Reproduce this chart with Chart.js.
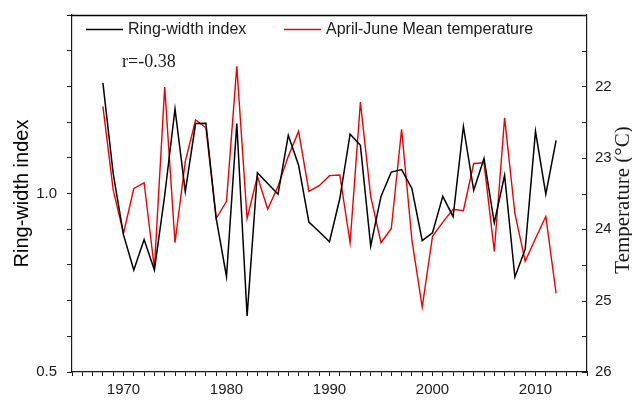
<!DOCTYPE html>
<html>
<head>
<meta charset="utf-8">
<script src="https://cdn.jsdelivr.net/npm/chart.js@4/dist/chart.umd.min.js"></script>
<style>
  html, body { margin: 0; padding: 0; background: #fff; }
  canvas { display: block; }
</style>
</head>
<body>
<canvas id="c" width="632" height="400"></canvas>
<script>
// Years of record
const years = [
  1968, 1969, 1970, 1971, 1972, 1973, 1974, 1975, 1976, 1977,
  1978, 1979, 1980, 1981, 1982, 1983, 1984, 1985, 1986, 1987,
  1988, 1989, 1990, 1991, 1992, 1993, 1994, 1995, 1996, 1997,
  1998, 1999, 2000, 2001, 2002, 2003, 2004, 2005, 2006, 2007,
  2008, 2009, 2010, 2011, 2012
];

// Tree-ring width index (left axis)
const ringWidth = [
  1.310, 1.056, 0.884, 0.786, 0.871, 0.786, 0.995, 1.237, 1.005, 1.196,
  1.197, 0.930, 0.767, 1.196, 0.657, 1.058, 1.028, 0.998, 1.163, 1.079,
  0.920, 0.893, 0.865, 0.986, 1.166, 1.135, 0.853, 0.992, 1.060, 1.067,
  1.014, 0.868, 0.890, 0.992, 0.935, 1.188, 1.009, 1.098, 0.918, 1.051,
  0.766, 0.844, 1.174, 0.998, 1.149
];

// April-June mean temperature, degrees C (right axis, inverted)
const aprJunTemp = [
  22.28, 23.45, 24.06, 23.43, 23.35, 24.55, 22.01, 24.19, 23.05, 22.47,
  22.58, 23.85, 23.61, 21.72, 23.85, 23.26, 23.72, 23.40, 22.98, 22.63,
  23.47, 23.39, 23.25, 23.24, 24.19, 22.22, 23.54, 24.19, 23.99, 22.60,
  24.15, 25.09, 24.10, 23.90, 23.72, 23.74, 23.08, 23.07, 24.31, 22.44,
  23.78, 24.45, 24.13, 23.82, 24.90
];

// Labelled ticks
const xTickLabels = [1970, 1980, 1990, 2000, 2010];
const leftTickLabels = [0.5, 1.0];
const rightTickLabels = [22, 23, 24, 25, 26];

const seriesNames = ['Ring-width index', 'April-June Mean temperature'];
const correlationText = 'r=-0.38';
const rightTitle = 'Temperature (\u00B0C)';

const INK = '#1a1a1a';
const RED = '#ee0000';
const SANS = '"Liberation Sans", Arial, sans-serif';
const SERIF = '"Liberation Serif", "Times New Roman", serif';

Chart.defaults.font.family = SANS;
Chart.defaults.color = INK;

const near = (v, list) => list.some(t => Math.abs(v - t) < 1e-6);

// keep the plot box exactly where the layout puts it
const noEdgePadding = s => {
  s.paddingTop = 0;
  s.paddingBottom = 0;
  s.paddingLeft = 0;
  s.paddingRight = 0;
};

// Frame, inward right-axis ticks, legend, r value and right title
const decorations = {
  id: 'decorations',
  afterDraw(chart) {
    const { ctx, chartArea: a } = chart;
    const yr = chart.scales.y1;
    const top = Math.round(a.top) + 0.5;
    ctx.save();
    ctx.strokeStyle = '#000';
    ctx.lineWidth = 1.3;
    ctx.beginPath();
    ctx.moveTo(Math.floor(a.left), top);
    ctx.lineTo(Math.ceil(a.right), top);
    ctx.stroke();

    ctx.strokeStyle = INK;
    ctx.lineWidth = 1;
    yr.ticks.forEach(t => {
      const y = Math.round(yr.getPixelForValue(t.value)) + 0.5;
      ctx.beginPath();
      ctx.moveTo(a.right - 5, y);
      ctx.lineTo(a.right, y);
      ctx.stroke();
    });

    // legend
    const ds = chart.data.datasets;
    const items = [
      { x0: 86, x1: 123, tx: 128 },
      { x0: 284, x1: 321, tx: 326 }
    ];
    const ly = 29.5;
    ctx.font = '16px ' + SANS;
    ctx.textBaseline = 'middle';
    ctx.textAlign = 'left';
    items.forEach((it, i) => {
      ctx.strokeStyle = ds[i].borderColor;
      ctx.lineWidth = ds[i].borderWidth;
      ctx.beginPath();
      ctx.moveTo(it.x0, ly);
      ctx.lineTo(it.x1, ly);
      ctx.stroke();
      ctx.fillStyle = INK;
      ctx.fillText(ds[i].label, it.tx, ly);
    });

    // correlation coefficient
    ctx.font = '18px ' + SERIF;
    ctx.textBaseline = 'alphabetic';
    ctx.fillText(correlationText, 122, 67);

    // right axis title, reading bottom to top
    ctx.save();
    ctx.translate(623, 200);
    ctx.rotate(-Math.PI / 2);
    ctx.font = '21px ' + SERIF;
    ctx.textAlign = 'center';
    ctx.textBaseline = 'middle';
    ctx.fillText(rightTitle, 0, 0);
    ctx.restore();

    ctx.restore();
  }
};

new Chart(document.getElementById('c'), {
  type: 'line',
  data: {
    datasets: [
      {
        label: seriesNames[0],
        data: years.map((yr, i) => ({ x: yr, y: ringWidth[i] })),
        borderColor: '#000000',
        borderWidth: 1.5,
        pointRadius: 0,
        tension: 0,
        yAxisID: 'y'
      },
      {
        label: seriesNames[1],
        data: years.map((yr, i) => ({ x: yr, y: aprJunTemp[i] })),
        borderColor: RED,
        borderWidth: 1.4,
        pointRadius: 0,
        tension: 0,
        yAxisID: 'y1'
      }
    ]
  },
  options: {
    responsive: false,
    animation: false,
    devicePixelRatio: 1,
    layout: { padding: { top: 15, left: 0, right: 0, bottom: 0 } },
    plugins: { legend: { display: false }, tooltip: { enabled: false } },
    scales: {
      x: {
        type: 'linear',
        min: 1965,
        max: 2015,
        afterFit(s) { s.height = 28; noEdgePadding(s); },
        ticks: {
          stepSize: 1,
          autoSkip: false,
          maxRotation: 0,
          padding: 5,
          font: { size: 15 },
          color: INK,
          callback: v => near(v, xTickLabels) ? String(Math.round(v)) : ''
        },
        grid: { drawOnChartArea: false, drawTicks: true, tickLength: 4, color: INK, lineWidth: 1 },
        border: { display: true, color: INK, width: 1.2 }
      },
      y: {
        position: 'left',
        min: 0.5,
        max: 1.5,
        afterFit(s) { s.width = 72; noEdgePadding(s); },
        ticks: {
          stepSize: 0.1,
          autoSkip: false,
          padding: 10,
          font: { size: 15 },
          color: INK,
          callback: v => near(v, leftTickLabels) ? Number(v).toFixed(1) : ''
        },
        grid: { drawOnChartArea: false, drawTicks: true, tickLength: 5, color: INK, lineWidth: 1 },
        border: { display: true, color: INK, width: 1.2 },
        title: {
          display: true,
          text: seriesNames[0],
          font: { size: 20, family: SANS },
          color: '#000',
          padding: { top: 10, bottom: 0 }
        }
      },
      y1: {
        position: 'right',
        reverse: true,
        min: 21,
        max: 26,
        afterFit(s) { s.width = 45; noEdgePadding(s); },
        ticks: {
          stepSize: 0.5,
          autoSkip: false,
          padding: 8,
          font: { size: 15 },
          color: INK,
          callback: v => near(v, rightTickLabels) ? String(Math.round(v)) : ''
        },
        grid: { drawOnChartArea: false, drawTicks: false },
        border: { display: true, color: INK, width: 1.2 }
      }
    }
  },
  plugins: [decorations]
});
</script>
</body>
</html>
